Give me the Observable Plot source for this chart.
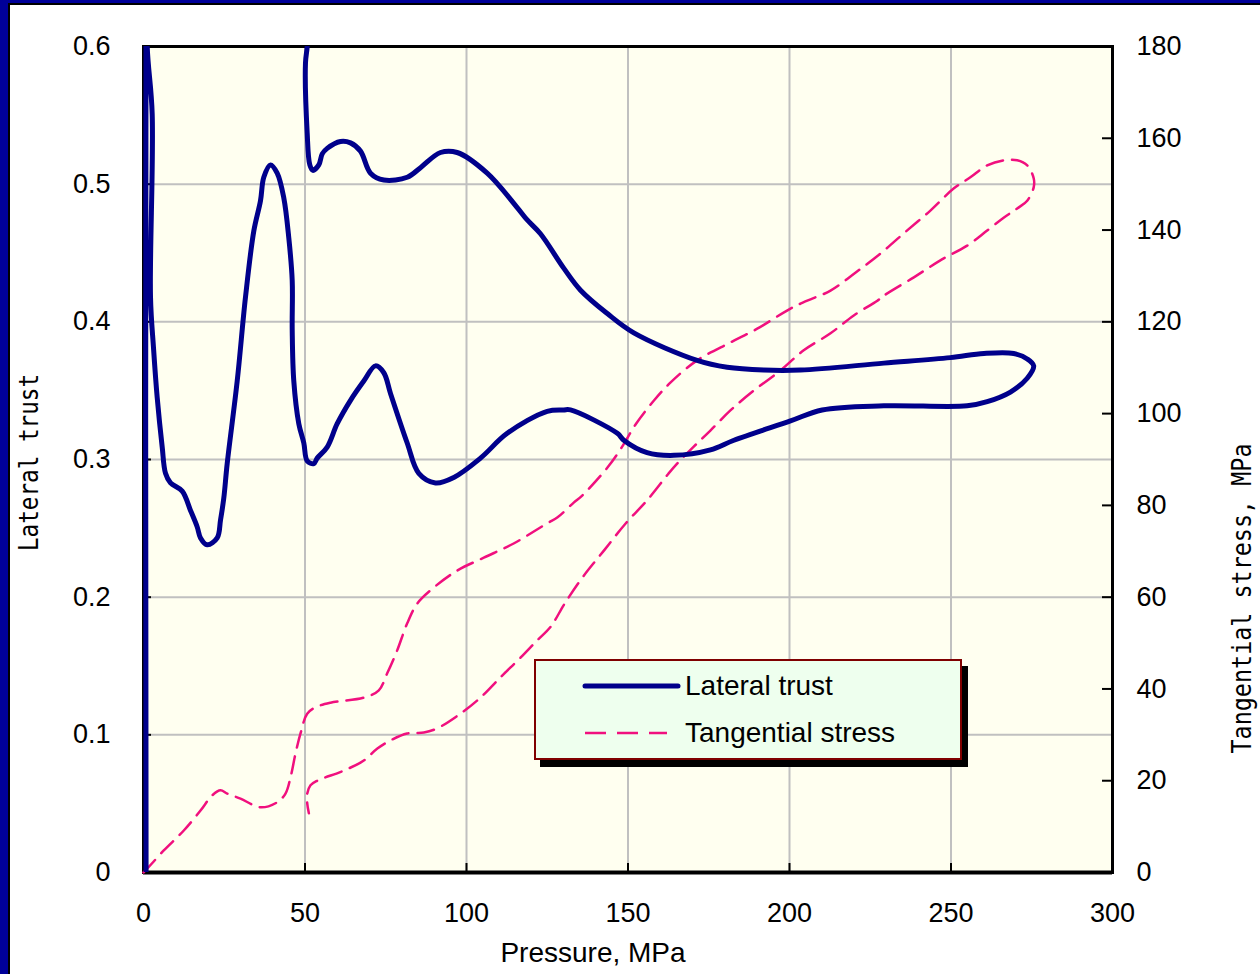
<!DOCTYPE html>
<html>
<head>
<meta charset="utf-8">
<script src="https://cdn.jsdelivr.net/npm/d3@7"></script>
<script src="https://cdn.jsdelivr.net/npm/@observablehq/plot@0.6"></script>
<style>
  html, body { margin: 0; padding: 0; width: 1260px; height: 974px; overflow: hidden; background: #000099; }
  #panel { position: absolute; left: 8px; top: 3px; width: 1260px; height: 980px; background: #fff;
           border-left: 2px solid #000; border-top: 2px solid #000; }
  #chart { position: absolute; left: 0; top: 0; }
  #legend { position: absolute; left: 534px; top: 659px; width: 424px; height: 97px;
            background: #EEFFEE; border: 2px solid #800000; box-shadow: 6px 7px 0 #000;
            font-family: "Liberation Sans", Arial, sans-serif; font-size: 28px; color: #000; }
  #legend svg { position: absolute; left: 0; top: 0; }
  #legend .label { position: absolute; left: 149px; line-height: 32px; white-space: nowrap; }
</style>
</head>
<body>
<div id="panel"></div>
<div id="chart"></div>
<div id="legend">
  <svg width="424" height="97">
    <line x1="49" y1="25" x2="142" y2="25" stroke="#00008B" stroke-width="5" stroke-linecap="round"/>
    <line x1="49" y1="72" x2="131" y2="72" stroke="#F0107E" stroke-width="2.5" stroke-dasharray="21,11"/>
  </svg>
  <div class="label" style="top:9px">Lateral trust</div>
  <div class="label" style="top:56px">Tangential stress</div>
</div>
<script>
// Lateral trust (left axis) against pressure, MPa: loading branch then unloading branch.
// The first and last readings run above the 0.6 axis limit and are clipped by the frame.
const pressureLateral = [0.8, 0.8, 1.0, 1.15, 2.69, 2.17, 3.10, 4.24, 5.79, 6.81, 8.36, 11.98, 14.55, 16.63, 17.65, 19.72,
  22.82, 23.84, 24.86, 25.91, 29.01, 31.58, 34.15, 36.22, 37.24, 39.32, 41.39, 43.44, 44.98, 46.04, 46.04, 46.53,
  48.08, 49.63, 50.68, 52.72, 53.78, 56.87, 59.97, 64.09, 68.2, 71.83, 74.4, 76.47, 81.64, 85.23, 90.40, 96.07,
  104.33, 112.6, 124.98, 130.1, 132.2, 146.7, 148.7, 155.9, 164.2, 175.5, 182.8, 200.3, 210.1, 229.2, 255.0, 261.2,
  268.4, 273.6, 275.6, 273.6, 269.4, 260.2, 249.8, 229.2, 203.4, 192.0, 180.7, 171.4, 151.8, 143.6, 135.3, 130.1,
  122.9, 118.8, 115.7, 106.4, 97.1, 91.95, 85.76, 81.64, 74.4, 70.28, 67.18, 64.09, 60.99, 56.87, 55.33, 54.27,
  52.41, 51.49, 50.68, 50.15, 50.68, 51.3];
const lateralTrust = [0, 0.66, 0.68, 0.6, 0.551, 0.418, 0.381, 0.345, 0.309, 0.290, 0.283, 0.277, 0.263, 0.251, 0.243, 0.238,
  0.243, 0.256, 0.272, 0.297, 0.357, 0.418, 0.466, 0.488, 0.505, 0.514, 0.508, 0.490, 0.461, 0.430, 0.394, 0.357,
  0.326, 0.312, 0.299, 0.297, 0.301, 0.309, 0.326, 0.343, 0.357, 0.368, 0.363, 0.348, 0.312, 0.290, 0.283, 0.287,
  0.301, 0.319, 0.335, 0.336, 0.336, 0.319, 0.314, 0.305, 0.303, 0.307, 0.314, 0.328, 0.336, 0.339, 0.339, 0.342,
  0.349, 0.359, 0.368, 0.373, 0.377, 0.377, 0.374, 0.370, 0.365, 0.365, 0.367, 0.372, 0.392, 0.406, 0.423, 0.439,
  0.464, 0.474, 0.483, 0.508, 0.523, 0.523, 0.512, 0.505, 0.503, 0.508, 0.524, 0.530, 0.531, 0.526, 0.522, 0.514,
  0.510, 0.514, 0.537, 0.588, 0.6, 0.64];

// Tangential stress, MPa (right axis) against pressure, MPa
const pressureTangential = [0, 0.62, 6.28, 12.48, 17.65, 21.27, 23.84, 25.91, 30.03, 36.22, 41.39, 43.96, 45.51,
  47.06, 48.61, 50.68, 53.25, 57.89, 68.2, 72.85, 75.45, 78.54, 81.64, 84.74, 88.85, 97.12, 105.36, 114.6, 124.98,
  128.2, 133.2, 135.9, 143.7, 148.1, 152.5, 158.1, 163.2, 171.4, 181.7, 190.0, 200.3, 205.5, 212.7, 220.4, 228.2,
  235.4, 243.7, 250.9, 256.0, 261.2, 266.3, 270.5, 273.6, 275.6, 275.6, 273.6, 270.5, 266.3, 261.2, 255.0, 246.7,
  238.5, 229.2, 227.2, 219.9, 212.7, 204.4, 197.2, 188.9, 181.7, 175.5, 170.2, 165.2, 162.5, 155.9, 149.2, 142.6,
  135.9, 130.4, 126.0, 121.9, 116.7, 111.6, 109.5, 104.3, 98.1, 90.9, 86.8, 81.6, 76.5, 72.4, 68.2, 62.0, 53.8,
  51.7, 50.7, 50.7, 51.2];
const tangentialStress = [0, 0.44, 4.8, 9.15, 13.5, 16.8, 17.9, 17.2, 16.1, 14.2, 15.3, 17.2, 20.7, 25.9, 30.3,
  34.6, 36.0, 37.0, 38.1, 39.7, 43.4, 48.4, 54.3, 58.6, 61.5, 65.8, 68.6, 71.7, 76.1, 77.4, 80.6, 82.2, 88.3, 92.7,
  97.8, 102.9, 106.8, 111.6, 115.5, 118.5, 122.9, 124.6, 126.8, 130.7, 134.9, 139.3, 144.3, 149.1, 151.5, 154.1,
  155.2, 155.2, 154.1, 151.3, 149.3, 146.4, 144.7, 142.7, 139.9, 136.6, 133.4, 129.7, 125.7, 124.6, 121.4, 117.5,
  113.8, 109.4, 105.0, 100.7, 96.3, 92.7, 89.1, 86.9, 81.1, 76.0, 70.2, 64.3, 58.6, 53.5, 50.6, 46.8, 43.3, 41.8,
  38.1, 34.6, 31.4, 30.5, 30.3, 28.8, 27.0, 24.4, 22.2, 20.0, 19.0, 17.2, 15.0, 12.9];

// Axis ticks
const pressureTicks = [0, 50, 100, 150, 200, 250, 300];
const lateralTicks = [0, 0.1, 0.2, 0.3, 0.4, 0.5, 0.6];
const stressTicks = [0, 20, 40, 60, 80, 100, 120, 140, 160, 180];

const lateralMax = 0.6, stressMax = 180;
const stressToY = v => v * lateralMax / stressMax;

const lateral = pressureLateral.map((p, i) => ({p, v: lateralTrust[i]}));
const tangential = pressureTangential.map((p, i) => ({p, v: tangentialStress[i]}));

const navy = "#00008B", pink = "#F0107E", grid = "#C0C0C0";
const W = 1260, H = 974, mL = 143, mR = 148, mT = 46, mB = 102;
const frameW = W - mL - mR, frameH = H - mT - mB;

const plot = Plot.plot({
  width: W, height: H,
  marginLeft: mL, marginRight: mR, marginTop: mT, marginBottom: mB,
  style: {background: "transparent", fontFamily: "'Liberation Sans', Arial, sans-serif", fontSize: "27px", color: "#000", overflow: "visible"},
  x: {domain: [0, 300]},
  y: {domain: [0, lateralMax]},
  marks: [
    Plot.frame({fill: "#FFFFF0"}),
    Plot.gridX(pressureTicks.slice(1, -1), {stroke: grid, strokeOpacity: 1, strokeWidth: 2}),
    Plot.gridY(lateralTicks.slice(1, -1), {stroke: grid, strokeOpacity: 1, strokeWidth: 2}),
    Plot.frame({stroke: "#000", strokeWidth: 3}),
    Plot.ruleY([0], {stroke: "#000", strokeWidth: 4}),
    // inward tick marks
    Plot.tickY(lateralTicks, {y: d => d, stroke: "#000", strokeWidth: 2, insetRight: frameW - 8}),
    Plot.tickY(stressTicks, {y: d => stressToY(d), stroke: "#000", strokeWidth: 2, insetLeft: frameW - 10}),
    Plot.tickX(pressureTicks, {x: d => d, stroke: "#000", strokeWidth: 2, insetTop: frameH - 9}),
    // tick labels
    Plot.axisY(lateralTicks, {anchor: "left", tickSize: 0, tickPadding: 33, label: null,
      tickFormat: d => d === 0 ? "0" : d.toFixed(1)}),
    Plot.axisY(stressTicks.map(stressToY), {anchor: "right", tickSize: 0, tickPadding: 24, label: null,
      tickFormat: d => String(Math.round(d * stressMax / lateralMax))}),
    Plot.axisX(pressureTicks, {anchor: "bottom", tickSize: 0, tickPadding: 30, label: null}),
    // axis titles
    Plot.text(["Pressure, MPa"], {text: d => d, frameAnchor: "bottom", dx: -35, dy: 81, lineAnchor: "middle",
      textAnchor: "middle", fontSize: 28, fill: "#000"}),
    Plot.text(["Lateral trust"], {text: d => d, frameAnchor: "left", dx: -114, dy: 3, rotate: -90, lineAnchor: "middle",
      textAnchor: "middle", fontFamily: "'DejaVu Sans Mono', monospace", fontSize: 27, fill: "#000"}),
    Plot.text(["Tangential stress, MPa"], {text: d => d, frameAnchor: "right", dx: 130, dy: 139, rotate: -90, lineAnchor: "middle",
      textAnchor: "middle", fontFamily: "'DejaVu Sans Mono', monospace", fontSize: 27, fill: "#000"}),
    // series
    Plot.line(tangential, {x: "p", y: d => stressToY(d.v), curve: "catmull-rom", stroke: pink, strokeWidth: 2.5, strokeDasharray: "17,9"}),
    Plot.line(lateral, {x: "p", y: "v", curve: "catmull-rom", clip: true, stroke: navy, strokeWidth: 5, strokeLinejoin: "round", strokeLinecap: "round"})
  ]
});

// condensed terminal-style axis titles
const titleLengths = {"Lateral trust": 177, "Tangential stress, MPa": 310};
plot.querySelectorAll("text").forEach(t => {
  const len = titleLengths[t.textContent];
  if (len) {
    t.setAttribute("textLength", len);
    t.setAttribute("lengthAdjust", "spacingAndGlyphs");
  }
});

document.getElementById("chart").appendChild(plot);
</script>
</body>
</html>
